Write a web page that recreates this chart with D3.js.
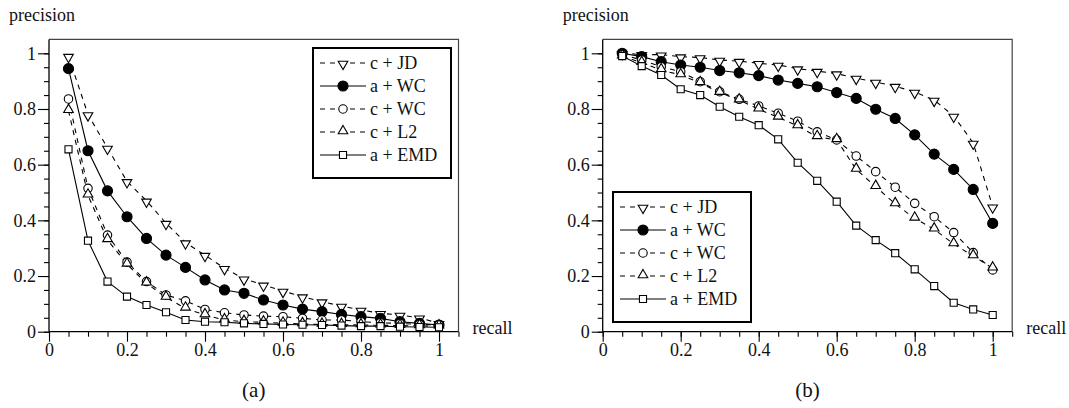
<!DOCTYPE html>
<html>
<head>
<meta charset="utf-8">
<script src="https://cdn.jsdelivr.net/npm/d3@7"></script>
<style>
  html, body { margin: 0; padding: 0; background: #fff; }
  svg, svg text { font-family: "Liberation Serif", "Times New Roman", Times, "DejaVu Serif", serif !important; }
</style>
</head>
<body>
<svg id="chart" width="1069" height="408"></svg>
<script>
// ---- data ----
const recall = [0.05,0.10,0.15,0.20,0.25,0.30,0.35,0.40,0.45,0.50,0.55,0.60,0.65,0.70,0.75,0.80,0.85,0.90,0.95,1.00];
const seriesNames = ["c + JD", "a + WC", "c + WC", "c + L2", "a + EMD"];
const xTickLabels = ["0", "0.2", "0.4", "0.6", "0.8", "1"];
const yTickLabels = ["0", "0.2", "0.4", "0.6", "0.8", "1"];
const panelCaptions = ["(a)", "(b)"];

// panel (a)
const a_cJD  = [0.99,0.78,0.66,0.54,0.47,0.39,0.32,0.275,0.228,0.19,0.168,0.146,0.126,0.108,0.092,0.078,0.066,0.06,0.05,0.03];
const a_aWC  = [0.945,0.65,0.506,0.413,0.335,0.275,0.231,0.186,0.15,0.138,0.114,0.096,0.081,0.072,0.062,0.054,0.048,0.036,0.03,0.024];
const a_cWC  = [0.836,0.515,0.347,0.25,0.18,0.132,0.111,0.08,0.068,0.06,0.056,0.054,0.048,0.042,0.042,0.036,0.032,0.03,0.026,0.024];
const a_cL2  = [0.794,0.49,0.33,0.242,0.174,0.123,0.084,0.06,0.042,0.036,0.034,0.03,0.028,0.026,0.025,0.024,0.023,0.022,0.021,0.02];
const a_aEMD = [0.655,0.327,0.18,0.126,0.096,0.07,0.042,0.036,0.034,0.03,0.028,0.026,0.025,0.024,0.022,0.02,0.02,0.018,0.017,0.016];

// panel (b)
const b_cJD  = [1.0,0.996,0.995,0.988,0.985,0.976,0.972,0.964,0.958,0.945,0.936,0.927,0.911,0.897,0.882,0.861,0.832,0.775,0.678,0.449];
const b_aWC  = [1.0,0.988,0.97,0.958,0.95,0.938,0.93,0.92,0.904,0.892,0.88,0.859,0.838,0.799,0.766,0.707,0.638,0.583,0.511,0.389];
const b_cWC  = [0.995,0.976,0.952,0.934,0.898,0.862,0.835,0.811,0.785,0.756,0.718,0.689,0.631,0.575,0.519,0.461,0.413,0.356,0.284,0.222];
const b_cL2  = [0.99,0.966,0.94,0.922,0.894,0.859,0.832,0.799,0.77,0.739,0.70,0.689,0.583,0.521,0.459,0.407,0.368,0.315,0.272,0.228];
const b_aEMD = [0.99,0.954,0.922,0.871,0.85,0.808,0.772,0.742,0.691,0.607,0.542,0.467,0.381,0.329,0.282,0.224,0.164,0.104,0.08,0.06];

const panelA = [a_cJD, a_aWC, a_cWC, a_cL2, a_aEMD];
const panelB = [b_cJD, b_aWC, b_cWC, b_cL2, b_aEMD];

// ---- styles ----
const styles = [
  {marker: "tridown", fill: "#fff", dash: "5,5"},
  {marker: "circle",  fill: "#000", dash: null},
  {marker: "circle",  fill: "#fff", dash: "5,5"},
  {marker: "triup",   fill: "#fff", dash: "5,5"},
  {marker: "square",  fill: "#fff", dash: null}
];

const FONT = '"Liberation Serif", "Times New Roman", Times, "DejaVu Serif", serif';
const svg = d3.select("#chart");
svg.append("rect").attr("width", 1069).attr("height", 408).attr("fill", "#fff");

const FS = 18;
const TXT = "#111";

function markerPath(type, filledBig) {
  if (type === "circle") return d3.symbol(d3.symbolCircle, filledBig ? 80 : 56)();
  if (type === "square") return d3.symbol(d3.symbolSquare, 50)();
  return d3.symbol(d3.symbolTriangle, 40)();
}

function drawMarker(g, type, fill, x, y, filledBig) {
  let p = g.append("path")
    .attr("d", markerPath(type, filledBig))
    .attr("fill", fill)
    .attr("stroke", "#000")
    .attr("stroke-width", 1.1);
  if (type === "tridown") p.attr("transform", `translate(${x},${y + 1}) rotate(180)`);
  else if (type === "triup") p.attr("transform", `translate(${x},${y - 1})`);
  else p.attr("transform", `translate(${x},${y})`);
}

function txt(g) {
  return g.append("text").style("font-family", FONT).attr("font-size", FS).attr("fill", TXT);
}

function panel(x0, data, legendPos, caption) {
  const x = d3.scaleLinear().domain([0, 1.05]).range([x0, x0 + 409.5]);
  const y = d3.scaleLinear().domain([0, 1.05]).range([331.7, 39.4]);
  const g = svg.append("g");

  // frame (top & right)
  g.append("path")
    .attr("d", `M${x(0)},${y(1.05)}H${x(1.05)}V${y(0)}`)
    .attr("fill", "none").attr("stroke", "#444").attr("stroke-width", 1.2);

  const minorVals = [0,0.05,0.1,0.15,0.2,0.25,0.3,0.35,0.4,0.45,0.5,0.55,0.6,0.65,0.7,0.75,0.8,0.85,0.9,0.95,1.0,1.05];
  const majorVals = [0,0.2,0.4,0.6,0.8,1.0];

  const xMinor = g.append("g").attr("transform", `translate(0,${y(0)})`)
    .call(d3.axisBottom(x).tickValues(minorVals).tickSize(5).tickFormat(""));
  const yMinor = g.append("g").attr("transform", `translate(${x(0)},0)`)
    .call(d3.axisLeft(y).tickValues(minorVals.slice(0, 21)).tickSize(5).tickFormat(""));

  const xMajor = g.append("g").attr("transform", `translate(0,${y(0)})`)
    .call(d3.axisBottom(x).tickValues(majorVals).tickSize(10).tickPadding(2)
      .tickFormat((d, i) => xTickLabels[i]));
  const yMajor = g.append("g").attr("transform", `translate(${x(0)},0)`)
    .call(d3.axisLeft(y).tickValues(majorVals).tickSize(11).tickPadding(2)
      .tickFormat((d, i) => yTickLabels[i]));

  [xMinor, yMinor, xMajor, yMajor].forEach(ax => {
    ax.attr("font-family", null);
    ax.select(".domain").attr("stroke", "#000").attr("stroke-width", 1.3);
    ax.selectAll(".tick line").attr("stroke", "#000").attr("stroke-width", 1.1);
    ax.selectAll("text").attr("font-size", FS).attr("fill", TXT).style("font-family", FONT);
  });
  xMinor.select(".domain").attr("d", `M${x(0)},0H${x(1.05)}`);
  yMinor.select(".domain").attr("d", `M0,${y(0)}V${y(1.05)}`);
  xMajor.select(".domain").remove();
  yMajor.select(".domain").remove();

  // axis titles
  txt(g).attr("x", x0 - 40).attr("y", 21).text("precision");
  txt(g).attr("x", x(1.05) + 14).attr("y", 334).text("recall");
  txt(g).attr("x", (x(0) + x(1.05)) / 2).attr("y", 397)
    .attr("text-anchor", "middle").attr("font-size", 21).text(caption);

  // lines
  const line = d3.line().x((d, i) => x(recall[i])).y(d => y(d));
  data.forEach((vals, s) => {
    g.append("path").datum(vals).attr("d", line)
      .attr("fill", "none").attr("stroke", "#000").attr("stroke-width", 1.1)
      .attr("stroke-dasharray", styles[s].dash);
  });
  // markers
  data.forEach((vals, s) => {
    vals.forEach((v, i) => drawMarker(g, styles[s].marker, styles[s].fill, x(recall[i]), y(v), s === 1));
  });

  // legend
  const lg = g.append("g").attr("transform", `translate(${legendPos[0]},${legendPos[1]})`);
  lg.append("rect").attr("x", 0).attr("y", 0).attr("width", 138).attr("height", 130)
    .attr("fill", "#fff").attr("stroke", "#000").attr("stroke-width", 2);
  seriesNames.forEach((name, s) => {
    const ry = 15 + s * 23;
    lg.append("line").attr("x1", 7).attr("x2", 53).attr("y1", ry).attr("y2", ry)
      .attr("stroke", "#000").attr("stroke-width", 1.1)
      .attr("stroke-dasharray", styles[s].dash);
    drawMarker(lg, styles[s].marker, styles[s].fill, 30, ry, s === 1);
    txt(lg).attr("x", 57).attr("y", ry + 6).text(name);
  });
}

panel(49, panelA, [313, 48], panelCaptions[0]);
panel(602.7, panelB, [613, 192], panelCaptions[1]);
</script>
</body>
</html>
